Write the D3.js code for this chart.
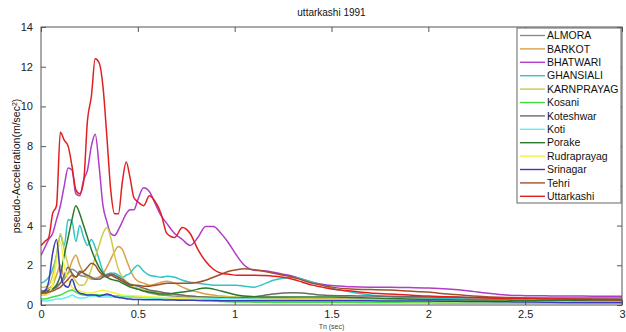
<!DOCTYPE html>
<html>
<head>
<meta charset="utf-8">
<script src="https://cdn.jsdelivr.net/npm/d3@7"></script>
<style>
  html, body { margin: 0; padding: 0; background: #fff; }
  svg { display: block; font-family: "Liberation Sans", Arial, sans-serif; }
</style>
</head>
<body>
<svg id="chart" width="626" height="332"></svg>
<script>
// Natural periods Tn (sec) shared by every station's spectrum
const periods = [0,0.02,0.04,0.06,0.08,0.10,0.12,0.14,0.16,0.18,0.20,0.22,0.24,0.26,0.28,0.30,0.32,0.34,0.36,0.38,0.40,0.42,0.44,0.46,0.48,0.50,
  0.53,0.56,0.59,0.62,0.65,0.69,0.73,0.77,0.81,0.85,0.89,0.93,0.97,1.01,1.05,
  1.10,1.15,1.20,1.25,1.30,1.35,1.40,1.45,1.50,
  1.6,1.7,1.8,1.9,2.0,2.1,2.2,2.3,2.4,2.5,2.6,2.7,2.8,2.9,3.0];

// Pseudo-acceleration (m/sec^2) per station
const almora = [0.5,0.5,0.6,0.8,1.0,1.1,1.3,1.6,1.8,1.7,1.5,1.45,1.4,1.35,1.35,1.4,1.45,1.55,1.6,1.5,1.35,1.2,1.05,0.95,0.85,0.8,
  0.7,0.6,0.55,0.5,0.48,0.45,0.43,0.41,0.4,0.38,0.37,0.36,0.35,0.35,0.34,
  0.33,0.33,0.32,0.32,0.31,0.31,0.3,0.3,0.3,
  0.29,0.28,0.27,0.26,0.25,0.24,0.24,0.23,0.23,0.22,0.22,0.21,0.21,0.2,0.2];
const barkot = [0.7,0.75,0.85,1.0,1.5,2.0,1.4,1.6,2.2,2.5,2.0,1.6,1.4,1.3,1.3,1.4,1.6,1.9,2.3,2.7,2.95,2.8,2.3,1.8,1.4,1.2,
  1.1,1.0,1.05,1.15,1.2,1.1,0.9,0.75,0.65,0.55,0.5,0.45,0.42,0.4,0.39,
  0.37,0.36,0.35,0.34,0.33,0.32,0.31,0.3,0.3,
  0.28,0.26,0.25,0.23,0.22,0.21,0.2,0.2,0.19,0.19,0.19,0.18,0.18,0.18,0.18];
const bhatwari = [2.5,2.9,3.3,3.6,4.3,5.0,6.0,6.9,6.8,5.6,5.5,6.3,6.8,8.0,8.6,7.0,5.0,4.2,3.6,3.5,3.8,4.2,4.6,4.8,4.8,5.3,
  5.9,5.7,5.1,4.5,4.1,3.6,3.3,3.0,3.4,3.95,3.95,3.6,3.1,2.5,2.0,
  1.75,1.72,1.65,1.55,1.45,1.3,1.15,1.05,0.98,
  0.92,0.9,0.9,0.88,0.85,0.8,0.72,0.6,0.5,0.47,0.46,0.45,0.45,0.44,0.44];
const ghansiali = [1.1,1.2,1.4,1.8,2.5,3.5,3.0,4.3,4.2,3.2,4.0,3.4,3.0,3.3,2.9,2.3,1.7,1.5,1.6,1.6,1.5,1.4,1.5,1.6,1.85,2.0,
  1.7,1.5,1.45,1.4,1.45,1.4,1.25,1.15,1.1,1.05,1.0,1.0,1.0,1.0,0.95,
  0.9,1.05,1.25,1.35,1.4,1.3,1.15,1.0,0.85,
  0.65,0.5,0.42,0.38,0.35,0.33,0.3,0.28,0.26,0.25,0.24,0.23,0.22,0.21,0.2];
const karnprayag = [0.9,0.9,1.0,1.5,2.5,3.6,2.8,2.0,1.5,1.2,1.0,1.0,1.3,1.8,2.4,3.0,3.6,3.9,3.4,2.5,1.8,1.4,1.2,1.0,0.9,0.85,
  0.75,0.7,0.65,0.6,0.55,0.5,0.48,0.45,0.42,0.41,0.4,0.4,0.4,0.39,0.38,
  0.36,0.35,0.34,0.33,0.32,0.31,0.31,0.3,0.3,
  0.29,0.28,0.27,0.26,0.25,0.24,0.23,0.23,0.22,0.22,0.21,0.21,0.2,0.2,0.2];
const kosani = [0.3,0.3,0.35,0.4,0.45,0.5,0.6,0.7,0.75,0.65,0.55,0.5,0.5,0.5,0.5,0.5,0.5,0.48,0.47,0.46,0.45,0.44,0.43,0.42,0.41,0.4,
  0.38,0.36,0.35,0.33,0.31,0.3,0.28,0.26,0.24,0.22,0.2,0.18,0.16,0.15,0.15,
  0.14,0.14,0.13,0.13,0.13,0.12,0.12,0.12,0.12,
  0.12,0.11,0.11,0.11,0.11,0.1,0.1,0.1,0.1,0.1,0.1,0.1,0.1,0.1,0.1];
const koteshwar = [0.7,0.7,0.75,0.8,0.9,1.1,1.5,1.9,1.6,1.4,1.7,1.6,1.5,1.4,1.3,1.3,1.4,1.5,1.55,1.5,1.4,1.3,1.15,1.05,1.0,0.95,
  0.85,0.75,0.7,0.65,0.6,0.55,0.5,0.45,0.42,0.4,0.38,0.36,0.35,0.35,0.38,
  0.42,0.48,0.55,0.6,0.62,0.6,0.55,0.5,0.48,
  0.46,0.45,0.44,0.42,0.4,0.39,0.38,0.37,0.36,0.35,0.35,0.35,0.35,0.35,0.35];
const koti = [0.2,0.2,0.22,0.25,0.3,0.3,0.35,0.4,0.5,0.4,0.35,0.35,0.4,0.45,0.45,0.4,0.4,0.4,0.4,0.4,0.4,0.39,0.39,0.38,0.38,0.38,
  0.37,0.36,0.35,0.35,0.35,0.35,0.35,0.35,0.35,0.34,0.33,0.32,0.31,0.3,0.3,
  0.29,0.28,0.28,0.27,0.27,0.26,0.26,0.25,0.25,
  0.24,0.23,0.22,0.21,0.2,0.19,0.19,0.18,0.18,0.17,0.17,0.16,0.16,0.15,0.15];
const porake = [0.6,0.6,0.7,0.8,1.0,1.5,2.5,3.4,4.3,5.0,4.6,4.0,3.4,2.8,2.3,1.9,1.6,1.4,1.3,1.25,1.2,1.1,1.0,0.9,0.85,0.8,
  0.7,0.65,0.6,0.55,0.55,0.6,0.65,0.7,0.8,0.85,0.8,0.7,0.6,0.5,0.45,
  0.42,0.4,0.4,0.4,0.4,0.4,0.4,0.4,0.4,
  0.38,0.35,0.33,0.3,0.28,0.26,0.25,0.24,0.23,0.22,0.22,0.21,0.21,0.2,0.2];
const rudraprayag = [0.5,0.5,0.6,1.0,2.2,3.2,2.0,1.3,0.9,0.75,0.7,0.65,0.6,0.6,0.65,0.7,0.75,0.7,0.65,0.6,0.55,0.5,0.48,0.47,0.46,0.45,
  0.43,0.41,0.4,0.38,0.36,0.34,0.32,0.3,0.29,0.28,0.27,0.26,0.25,0.25,0.24,
  0.23,0.23,0.22,0.22,0.21,0.21,0.2,0.2,0.2,
  0.2,0.19,0.19,0.18,0.18,0.18,0.17,0.17,0.17,0.16,0.16,0.16,0.15,0.15,0.15];
const srinagar = [0.6,0.7,1.2,2.6,3.3,1.6,1.0,0.9,1.3,0.8,0.6,0.55,0.5,0.5,0.5,0.45,0.5,0.55,0.5,0.42,0.38,0.35,0.32,0.3,0.28,0.28,
  0.27,0.27,0.26,0.26,0.25,0.25,0.24,0.24,0.23,0.23,0.23,0.22,0.22,0.22,0.22,
  0.22,0.22,0.22,0.22,0.22,0.22,0.22,0.22,0.22,
  0.21,0.21,0.2,0.2,0.2,0.19,0.18,0.17,0.16,0.15,0.14,0.13,0.13,0.12,0.12];
const tehri = [0.6,0.6,0.65,0.7,0.8,0.9,1.1,1.3,1.5,1.4,1.6,1.7,1.9,2.1,2.0,1.7,1.5,1.4,1.5,1.4,1.3,1.2,1.1,1.0,1.0,1.0,
  0.95,0.95,1.0,1.05,1.1,1.1,1.1,1.1,1.15,1.25,1.4,1.55,1.7,1.78,1.82,
  1.78,1.7,1.6,1.5,1.4,1.25,1.1,1.0,0.9,
  0.8,0.78,0.75,0.7,0.65,0.55,0.48,0.42,0.38,0.35,0.33,0.3,0.3,0.28,0.28];
const uttarkashi = [3.0,3.2,3.4,4.6,5.0,8.7,8.3,8.0,7.0,5.8,5.6,6.2,9.3,10.5,12.4,12.2,11.0,8.5,5.8,4.6,4.6,6.2,7.2,6.4,5.4,5.2,
  5.0,5.5,5.2,4.6,3.6,3.4,3.9,3.6,2.8,2.2,1.8,1.6,1.55,1.5,1.5,
  1.5,1.48,1.45,1.4,1.3,1.15,1.0,0.9,0.8,
  0.7,0.6,0.55,0.5,0.45,0.42,0.38,0.35,0.33,0.32,0.3,0.3,0.28,0.28,0.27];

const stationNames = ["ALMORA","BARKOT","BHATWARI","GHANSIALI","KARNPRAYAG","Kosani","Koteshwar","Koti","Porake","Rudraprayag","Srinagar","Tehri","Uttarkashi"];
const stationValues = [almora,barkot,bhatwari,ghansiali,karnprayag,kosani,koteshwar,koti,porake,rudraprayag,srinagar,tehri,uttarkashi];
const stationColors = ["#8c8c8c","#d8a048","#b03cc8","#30c4c4","#cccc48","#44dd44","#6a6a6a","#5ef0f0","#2a7a2a","#f4f43c","#3a3ac0","#a0502c","#e02020"];

const xTicks = [0,0.5,1,1.5,2,2.5,3];
const yTicks = [0,2,4,6,8,10,12,14];

const svg = d3.select("#chart");
const plot = { left: 41, right: 622, top: 27, bottom: 305 };

const x = d3.scaleLinear().domain([0, 3]).range([plot.left, plot.right]);
const y = d3.scaleLinear().domain([0, 14]).range([plot.bottom, plot.top]);

svg.append("defs").append("clipPath").attr("id", "plot-clip")
  .append("rect")
  .attr("x", plot.left).attr("y", plot.top)
  .attr("width", plot.right - plot.left).attr("height", plot.bottom - plot.top);

// Spectrum curves
const line = d3.line()
  .x((d, i) => x(periods[i]))
  .y(d => y(d))
  .curve(d3.curveMonotoneX);

const curves = svg.append("g").attr("clip-path", "url(#plot-clip)");
stationValues.forEach((vals, k) => {
  curves.append("path")
    .datum(vals)
    .attr("fill", "none")
    .attr("stroke", stationColors[k])
    .attr("stroke-width", 1.5)
    .attr("stroke-linejoin", "round")
    .attr("d", line);
});

// Axes: box with inward ticks on all sides
const axisColor = "#555";
const tickLen = 5;
const axisStyle = g => {
  g.select(".domain").remove();
  g.selectAll(".tick line").attr("stroke", axisColor);
  g.selectAll(".tick text").attr("fill", "#222").style("font-size", "11px")
    .style("font-family", "'Liberation Sans', Arial, sans-serif");
};

svg.append("g")
  .attr("transform", `translate(0,${plot.bottom})`)
  .call(d3.axisBottom(x).tickValues(xTicks).tickFormat(d3.format("")).tickSize(-tickLen).tickPadding(5))
  .call(axisStyle);
svg.append("g")
  .attr("transform", `translate(0,${plot.top})`)
  .call(d3.axisTop(x).tickValues(xTicks).tickFormat("").tickSize(-tickLen))
  .call(axisStyle);
svg.append("g")
  .attr("transform", `translate(${plot.left},0)`)
  .call(d3.axisLeft(y).tickValues(yTicks).tickSize(-tickLen).tickPadding(8))
  .call(axisStyle);
svg.append("g")
  .attr("transform", `translate(${plot.right},0)`)
  .call(d3.axisRight(y).tickValues(yTicks).tickFormat("").tickSize(-tickLen))
  .call(axisStyle);

svg.append("rect")
  .attr("x", plot.left).attr("y", plot.top)
  .attr("width", plot.right - plot.left).attr("height", plot.bottom - plot.top)
  .attr("fill", "none").attr("stroke", axisColor).attr("stroke-width", 1);

// Title and axis labels
svg.append("text")
  .attr("x", (plot.left + plot.right) / 2).attr("y", 16)
  .attr("text-anchor", "middle")
  .style("font-size", "10px").attr("fill", "#111")
  .text("uttarkashi 1991");

svg.append("text")
  .attr("x", (plot.left + plot.right) / 2).attr("y", 329)
  .attr("text-anchor", "middle")
  .style("font-size", "7px").attr("fill", "#444")
  .text("Tn (sec)");

const yLabel = svg.append("text")
  .attr("transform", `translate(20,${(plot.top + plot.bottom) / 2}) rotate(-90)`)
  .attr("text-anchor", "middle")
  .style("font-size", "10.5px").attr("fill", "#111");
yLabel.append("tspan").text("pseudo-Acceleration(m/sec");
yLabel.append("tspan").attr("baseline-shift", "super").style("font-size", "7px").text("2");
yLabel.append("tspan").text(")");

// Legend
const legend = { x: 517, y: 28, w: 104, h: 175, row: 13.4 };
const lg = svg.append("g");
lg.append("rect")
  .attr("x", legend.x).attr("y", legend.y)
  .attr("width", legend.w).attr("height", legend.h)
  .attr("fill", "#fff").attr("stroke", "#666").attr("stroke-width", 1);

stationNames.forEach((name, k) => {
  const cy = legend.y + 7.5 + k * legend.row;
  lg.append("line")
    .attr("x1", legend.x + 3).attr("x2", legend.x + 28)
    .attr("y1", cy).attr("y2", cy)
    .attr("stroke", stationColors[k]).attr("stroke-width", 1.4);
  lg.append("text")
    .attr("x", legend.x + 30).attr("y", cy)
    .attr("dy", "0.35em")
    .style("font-size", "10.5px").attr("fill", "#111")
    .text(name);
});
</script>
</body>
</html>
